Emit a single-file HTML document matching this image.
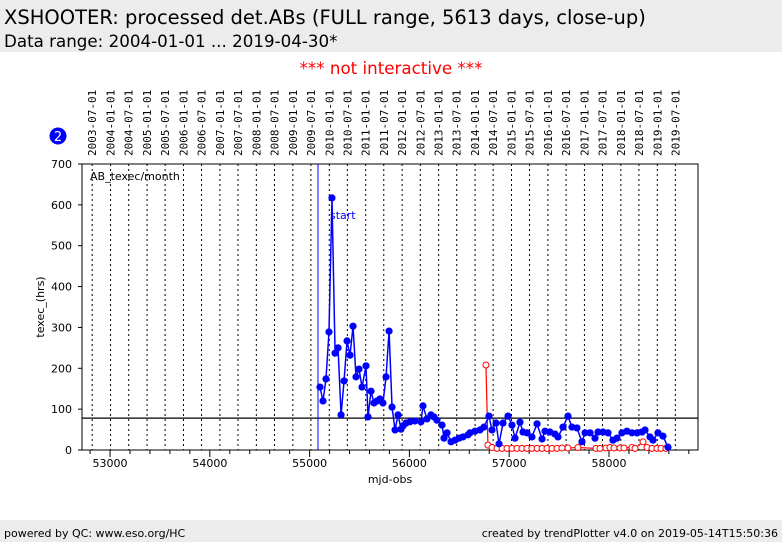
<!DOCTYPE html>
<html><head><meta charset="utf-8">
<style>
body{margin:0;width:782px;height:542px;background:#fff;font-family:"DejaVu Sans","Liberation Sans",sans-serif;overflow:hidden;position:relative}
#hdr{position:absolute;left:0;top:0;width:782px;height:52px;background:#ececec}
#t1{position:absolute;left:4px;top:6px;font-size:19.5px;color:#000}
#t2{position:absolute;left:4px;top:31px;font-size:16.7px;color:#000}
#ni{position:absolute;left:0;width:782px;top:58px;text-align:center;color:#f00;font-size:16.7px}
#ftr{position:absolute;left:0;top:520px;width:782px;height:22px;background:#ececec;font-size:11px}
#ftr span{position:absolute;top:7px}
svg{position:absolute;left:0;top:0}
</style></head><body>
<div id="hdr">
<div id="t1">XSHOOTER: processed det.ABs (FULL range, 5613 days, close-up)</div>
<div id="t2">Data range: 2004-01-01 ... 2019-04-30*</div>
</div>
<div id="ni">*** not interactive ***</div>
<div id="ftr"><span style="left:4px">powered by QC: www.eso.org/HC</span><span style="right:4px">created by trendPlotter v4.0 on 2019-05-14T15:50:36</span></div>
<svg id="chart" width="782" height="542"></svg>
<script>
const dateLabels=["2003-07-01","2004-01-01","2004-07-01","2005-01-01","2005-07-01","2006-01-01","2006-07-01","2007-01-01","2007-07-01","2008-01-01","2008-07-01","2009-01-01","2009-07-01","2010-01-01","2010-07-01","2011-01-01","2011-07-01","2012-01-01","2012-07-01","2013-01-01","2013-07-01","2014-01-01","2014-07-01","2015-01-01","2015-07-01","2016-01-01","2016-07-01","2017-01-01","2017-07-01","2018-01-01","2018-07-01","2019-01-01","2019-07-01"];
const dateMjd=[52821,53005,53187,53371,53552,53736,53917,54101,54282,54466,54648,54832,55013,55197,55378,55562,55743,55927,56109,56293,56474,56658,56839,57023,57204,57388,57570,57754,57935,58119,58300,58484,58665];
const xTicks=[53000,54000,55000,56000,57000,58000];
const yTicks=[0,100,200,300,400,500,600,700];
const blueMjd=[55104,55134,55164,55194,55224,55255,55285,55315,55345,55375,55405,55435,55465,55495,55525,55565,55585,55615,55645,55675,55705,55735,55766,55796,55826,55856,55886,55916,55936,55966,56006,56056,56116,56136,56176,56216,56246,56276,56327,56347,56377,56417,56457,56497,56537,56587,56607,56657,56707,56747,56797,56828,56868,56898,56938,56988,57028,57058,57108,57138,57178,57228,57279,57329,57359,57409,57459,57489,57539,57589,57629,57679,57729,57760,57810,57860,57890,57940,57990,58040,58080,58130,58180,58230,58281,58331,58361,58411,58441,58491,58541,58591];
const blueVal=[154,120,174,289,617,237,250,86,169,267,232,303,179,198,154,206,81,144,115,120,125,115,179,291,105,49,86,51,59,66,69,71,69,108,76,86,81,73,61,29,42,20,24,29,32,37,42,46,49,56,83,49,66,15,66,83,61,29,68,44,42,32,64,27,46,44,39,32,56,83,56,54,20,42,42,29,44,44,42,24,29,42,46,42,42,44,49,32,24,42,34,7];
const redMjd=[56767,56787,56828,56878,56928,56978,57028,57078,57128,57178,57228,57279,57329,57379,57429,57479,57529,57589,57689,57870,57910,57970,58010,58050,58110,58150,58230,58261,58341,58381,58431,58481,58521,58571];
const redVal=[208,12,6,4,4,4,4,4,4,4,4,4,4,4,4,4,5,5,6,4,4,5,6,5,5,5,6,4,20,6,4,4,4,4];
const refLine=78, startMjd=55084;
const L=82,R=698,T=164,B=450,X0=52719,X1=58892,Y1=700;
const xs=m=>L+(m-X0)/(X1-X0)*(R-L);
const ys=v=>B-v/Y1*(B-T);
const svg=document.getElementById('chart');
const NS='http://www.w3.org/2000/svg';
function mk(tag,at,txt){const e=document.createElementNS(NS,tag);for(const k in at)e.setAttribute(k,at[k]);if(txt!==undefined)e.textContent=txt;svg.appendChild(e);return e;}
dateMjd.forEach((m,i)=>{const x=xs(m);
 const g=mk('line',{x1:x,x2:x,y1:T,y2:B,stroke:'#000','stroke-width':1,'stroke-dasharray':'2,3'});
 
 
 const t=mk('text',{x:0,y:0,transform:`translate(${x+4},156) rotate(-90)`,'font-size':11,'font-family':'"DejaVu Sans Mono","Liberation Mono",monospace',fill:'#000'},dateLabels[i]);
 
 
});
const fr=mk('rect',{x:L,y:T,width:R-L,height:B-T,fill:'none',stroke:'#000','stroke-width':1});


yTicks.forEach(v=>{const y=ys(v);
 mk('line',{x1:L-4,x2:L,y1:y,y2:y,stroke:'#000'});
 const t=mk('text',{x:72,y:y+4,'text-anchor':'end','font-size':11,fill:'#000'},v);
 
 
});
for(let m=52800;m<=58800;m+=200){const x=xs(m);const maj=m%1000===0;mk('line',{x1:x,x2:x,y1:B,y2:B+(maj?7:4),stroke:'#000'});}
xTicks.forEach(m=>{const t=mk('text',{x:xs(m),y:467,'text-anchor':'middle','font-size':11,fill:'#000'},m);
 
 });
const xt=mk('text',{x:390,y:483,'text-anchor':'middle','font-size':11},'mjd-obs');


const yt=mk('text',{x:0,y:0,transform:'translate(44,307) rotate(-90)','text-anchor':'middle','font-size':11},'texec_(hrs)');


const lb=mk('text',{x:90,y:180,'font-size':11},'AB_texec/month');


const rl=mk('line',{x1:L,x2:R,y1:ys(refLine),y2:ys(refLine),stroke:'#000','stroke-width':1.2});


const sl=mk('line',{x1:xs(startMjd),x2:xs(startMjd),y1:T,y2:B,stroke:'#00f','stroke-width':1});


const st=mk('text',{x:xs(startMjd)+12,y:219,'font-size':11,fill:'#00f'},'start');


const rp=mk('polyline',{points:redMjd.map((m,i)=>xs(m)+','+ys(redVal[i])).join(' '),fill:'none',stroke:'#f00','stroke-width':1.2});


redMjd.forEach((m,i)=>{const c=mk('circle',{cx:xs(m),cy:ys(redVal[i]),r:3,fill:'#fff',stroke:'#f00','stroke-width':1});
 
 });
const bp=mk('polyline',{points:blueMjd.map((m,i)=>xs(m)+','+ys(blueVal[i])).join(' '),fill:'none',stroke:'#00f','stroke-width':1.5});


blueMjd.forEach((m,i)=>{const c=mk('circle',{cx:xs(m),cy:ys(blueVal[i]),r:3.6,fill:'#00f'});
 
 });
const bc=mk('circle',{cx:58,cy:136,r:8.5,fill:'#00f'});


const bt=mk('text',{x:58,y:141,'text-anchor':'middle','font-size':13,fill:'#fff'},'2');


</script>
</body></html>
